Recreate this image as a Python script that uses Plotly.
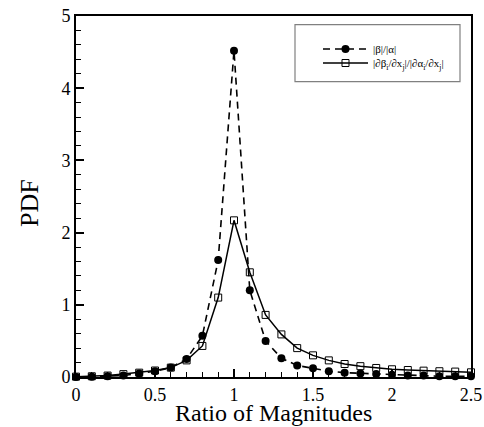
import plotly.graph_objects as go

x_vals = [round(0.1 * i, 1) for i in range(26)]
pdf_beta_alpha = [0.0, 0.005, 0.01, 0.02, 0.05, 0.08, 0.13, 0.25, 0.57, 1.62, 4.52,
                  1.2, 0.5, 0.26, 0.16, 0.12, 0.08, 0.06, 0.05, 0.04, 0.03,
                  0.02, 0.02, 0.01, 0.01, 0.01]
pdf_grad = [0.005, 0.01, 0.02, 0.04, 0.06, 0.09, 0.13, 0.23, 0.43, 1.1, 2.17,
            1.45, 0.86, 0.59, 0.4, 0.3, 0.23, 0.18, 0.15, 0.125, 0.107,
            0.097, 0.088, 0.08, 0.075, 0.065]
name_a = "|β|/|α|"
name_b = "|∂β<sub>i</sub>/∂x<sub>j</sub>|/|∂α<sub>i</sub>/∂x<sub>j</sub>|"
x_title = "Ratio of Magnitudes"
y_title = "PDF"

FONT = "Liberation Serif, Times New Roman, serif"

L, R, T, B = 76, 471, 16, 377
W, H = R - L, B - T


def px(xp):
    return (xp - L) / W


def py(yp):
    return (B - yp) / H


fig = go.Figure()
fig.add_trace(go.Scatter(
    x=x_vals, y=pdf_beta_alpha, name=name_a, mode="lines+markers",
    line=dict(color="black", width=1.6, dash="7px,5px"),
    marker=dict(symbol="circle", size=8, color="black"),
    cliponaxis=False, legend="legend",
))
fig.add_trace(go.Scatter(
    x=x_vals, y=pdf_grad, name=name_b, mode="lines+markers",
    line=dict(color="black", width=1.5),
    marker=dict(symbol="square-open", size=7, color="black", line=dict(width=1)),
    cliponaxis=False, legend="legend2",
))

axis_common = dict(
    showline=True, linecolor="black", linewidth=2, mirror=True,
    showgrid=False, zeroline=False, automargin=False,
    ticks="inside", ticklen=8, tickwidth=1.5, tickcolor="black",
    tickfont=dict(family=FONT, size=18, color="black"),
)

leg_common = dict(xanchor="left", yanchor="middle",
                  bgcolor="rgba(0,0,0,0)", borderwidth=0,
                  font=dict(family=FONT, size=11, color="black"),
                  itemwidth=45)

fig.update_layout(
    width=484, height=427,
    margin=dict(l=L, r=484 - R, t=T, b=427 - B),
    paper_bgcolor="white", plot_bgcolor="white",
    font=dict(family=FONT, color="black"),
    xaxis=dict(range=[0, 2.5], dtick=0.5, tick0=0,
               minor=dict(ticks="inside", ticklen=5, dtick=0.1, tickcolor="black", tickwidth=1),
               **axis_common),
    yaxis=dict(range=[0, 5], dtick=1, tick0=0,
               minor=dict(ticks="inside", ticklen=5, dtick=0.2, tickcolor="black", tickwidth=1),
               **axis_common),
    showlegend=True,
    legend=dict(x=px(318), y=py(49), **leg_common),
    legend2=dict(x=px(318), y=py(63), **leg_common),
    annotations=[
        dict(text=x_title, xref="paper", yref="paper", x=px(273), y=py(413),
             xanchor="center", yanchor="middle", showarrow=False,
             font=dict(family=FONT, size=24, color="black")),
        dict(text=y_title, xref="paper", yref="paper", x=px(30), y=py(203),
             xanchor="center", yanchor="middle", showarrow=False, textangle=-90,
             font=dict(family=FONT, size=26, color="black")),
    ],
    shapes=[dict(type="rect", xref="paper", yref="paper",
                 x0=px(295), x1=px(460), y0=py(81.7), y1=py(24.7),
                 line=dict(color="#808080", width=1.2), fillcolor="rgba(0,0,0,0)")],
)

fig.write_html("out.html")
